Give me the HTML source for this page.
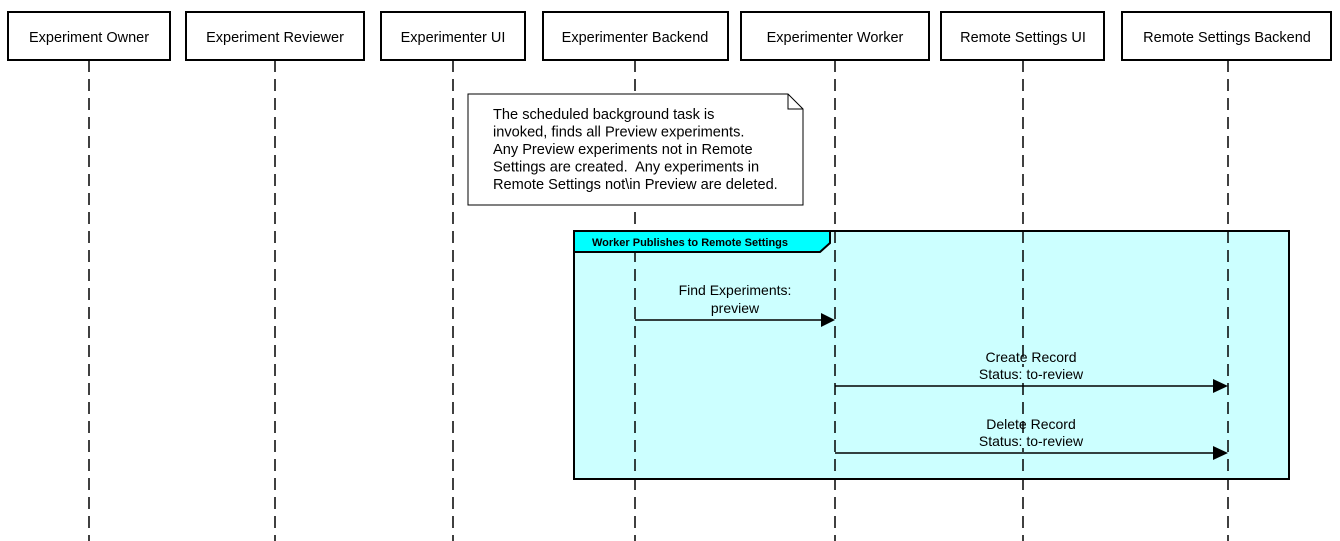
<!DOCTYPE html>
<html><head><meta charset="utf-8"><style>
body{margin:0;background:#fff}
svg{display:block;font-family:"Liberation Sans",Arial,sans-serif}
</style></head><body>
<svg width="1340" height="541" viewBox="0 0 1340 541" xmlns="http://www.w3.org/2000/svg">
<rect x="574" y="231" width="715" height="248" fill="#ccffff" stroke="#000" stroke-width="2"/>
<g stroke="#000" stroke-width="1.5" stroke-dasharray="12,7">
<line x1="89" y1="60" x2="89" y2="541"/>
<line x1="275" y1="60" x2="275" y2="541"/>
<line x1="453" y1="60" x2="453" y2="541"/>
<line x1="635" y1="60" x2="635" y2="541"/>
<line x1="835" y1="60" x2="835" y2="541"/>
<line x1="1023" y1="60" x2="1023" y2="541"/>
<line x1="1228" y1="60" x2="1228" y2="541"/>
</g>
<g fill="#ccffff">
<rect x="978" y="367" width="106" height="14"/>
<rect x="978" y="434" width="106" height="14"/>
</g>
<g fill="#fff" stroke="#000" stroke-width="2">
<rect x="8" y="12" width="162" height="48"/>
<rect x="186" y="12" width="178" height="48"/>
<rect x="381" y="12" width="144" height="48"/>
<rect x="543" y="12" width="185" height="48"/>
<rect x="741" y="12" width="188" height="48"/>
<rect x="941" y="12" width="163" height="48"/>
<rect x="1122" y="12" width="209" height="48"/>
</g>
<g font-size="14.5" text-anchor="middle" fill="#000">
<text x="89" y="42">Experiment Owner</text>
<text x="275" y="42">Experiment Reviewer</text>
<text x="453" y="42">Experimenter UI</text>
<text x="635" y="42">Experimenter Backend</text>
<text x="835" y="42">Experimenter Worker</text>
<text x="1023" y="42">Remote Settings UI</text>
<text x="1227" y="42">Remote Settings Backend</text>
</g>
<path d="M468 94 H788 L803 109 V205 H468 Z" fill="#fff" stroke="#000" stroke-width="1"/>
<path d="M788 94 V109 H803" fill="none" stroke="#000" stroke-width="1"/>
<g font-size="14.6" fill="#000">
<text x="493" y="119">The scheduled background task is</text>
<text x="493" y="136.5">invoked, finds all Preview experiments.</text>
<text x="493" y="154">Any Preview experiments not in Remote</text>
<text x="493" y="171.5" xml:space="preserve">Settings are created.  Any experiments in</text>
<text x="493" y="189">Remote Settings not\in Preview are deleted.</text>
</g>
<path d="M574 231 H830 V243 L820 252 H574 Z" fill="#00ffff" stroke="#000" stroke-width="2"/>
<text x="592" y="246" font-size="11" font-weight="bold">Worker Publishes to Remote Settings</text>
<g stroke="#000" stroke-width="1.5">
<line x1="635" y1="320" x2="822" y2="320"/>
<line x1="835" y1="386" x2="1214" y2="386"/>
<line x1="835" y1="453" x2="1214" y2="453"/>
</g>
<g fill="#000">
<path d="M821 313 L835 320 L821 327 Z"/>
<path d="M1213 379 L1228 386 L1213 393 Z"/>
<path d="M1213 446 L1228 453 L1213 460 Z"/>
</g>
<g font-size="14" text-anchor="middle" fill="#000">
<text x="735" y="295">Find Experiments:</text>
<text x="735" y="313">preview</text>
<text x="1031" y="362">Create Record</text>
<text x="1031" y="379">Status: to-review</text>
<text x="1031" y="429">Delete Record</text>
<text x="1031" y="446">Status: to-review</text>
</g>
</svg>
</body></html>
